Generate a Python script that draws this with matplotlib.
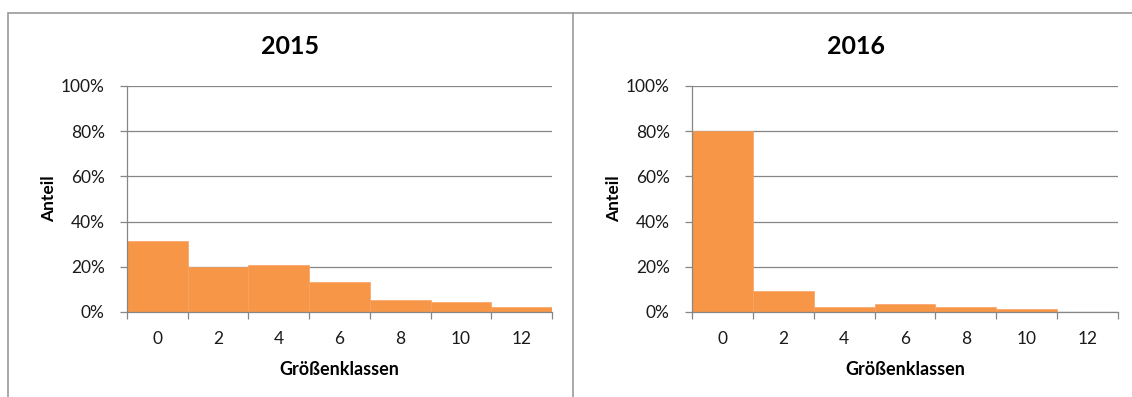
import numpy as np
import matplotlib.pyplot as plt
from matplotlib.patches import Rectangle
from matplotlib.lines import Line2D
from matplotlib.ticker import PercentFormatter

plt.rcParams['font.family'] = ['Lato', 'DejaVu Sans']

classes = ['0', '2', '4', '6', '8', '10', '12']
share_2015 = [31.5, 20.0, 21.0, 13.3, 5.3, 4.4, 2.2]
share_2016 = [80.0, 9.2, 2.4, 3.4, 2.2, 1.2, 0.0]
years = ['2015', '2016']

W, H = 1132, 397
fig = plt.figure(figsize=(W / 100, H / 100), dpi=100)

grey = '#868686'
frame_grey = '#9a9a9a'
orange = '#F79646'

# outer frame plus the divider between the two panels
fig.patches.append(Rectangle((8 / W, -0.05), 1.2, 1 - 12.5 / H + 0.05,
                             transform=fig.transFigure, fill=False,
                             edgecolor=frame_grey, linewidth=1.2))
fig.lines.append(Line2D([573 / W, 573 / W], [0, 1 - 12.5 / H],
                        transform=fig.transFigure, color=frame_grey, linewidth=1.2))

title_x = [290, 856]
axes_px = [(127, 552), (692, 1118)]
top_px, bottom_px = 86, 312

for k, (data, year) in enumerate(zip([share_2015, share_2016], years)):
    ax0, ax1 = axes_px[k]
    ax = fig.add_axes([ax0 / W, 1 - bottom_px / H, (ax1 - ax0) / W, (bottom_px - top_px) / H])
    x = np.arange(len(classes))
    ax.bar(x, data, width=1.0, color=orange, edgecolor='#F8A263', linewidth=0.5, zorder=2)
    ax.set_xlim(-0.5, len(classes) - 0.5)
    ax.set_ylim(0, 100)
    ax.set_yticks([0, 20, 40, 60, 80, 100])
    ax.yaxis.set_major_formatter(PercentFormatter(decimals=0))
    ax.set_xticks(x)
    ax.set_xticklabels(classes)
    ax.set_xticks(np.arange(len(classes) + 1) - 0.5, minor=True)
    ax.tick_params(axis='x', which='major', length=0, pad=14, labelsize=12.5, colors='#1a1a1a')
    ax.tick_params(axis='x', which='minor', length=5, color=grey, width=0.9)
    ax.tick_params(axis='y', length=5, color=grey, width=0.9, labelsize=12.5, pad=11)
    for lbl in ax.get_yticklabels():
        lbl.set_color('#1a1a1a')
    ax.grid(axis='y', color=grey, linewidth=0.9, zorder=0)
    ax.set_axisbelow(True)
    for s in ['top', 'right']:
        ax.spines[s].set_visible(False)
    for s in ['left', 'bottom']:
        ax.spines[s].set_color(grey)
        ax.spines[s].set_linewidth(0.9)
    ax.set_ylabel('Anteil', fontsize=12.5, fontweight='bold', labelpad=3)
    ax.set_xlabel('Größenklassen', fontsize=13, fontweight='bold', labelpad=10)
    fig.text(title_x[k] / W, 1 - 46 / H, year, ha='center', va='center',
             fontsize=18, fontweight='bold')

fig.savefig('out.png', dpi=100)
